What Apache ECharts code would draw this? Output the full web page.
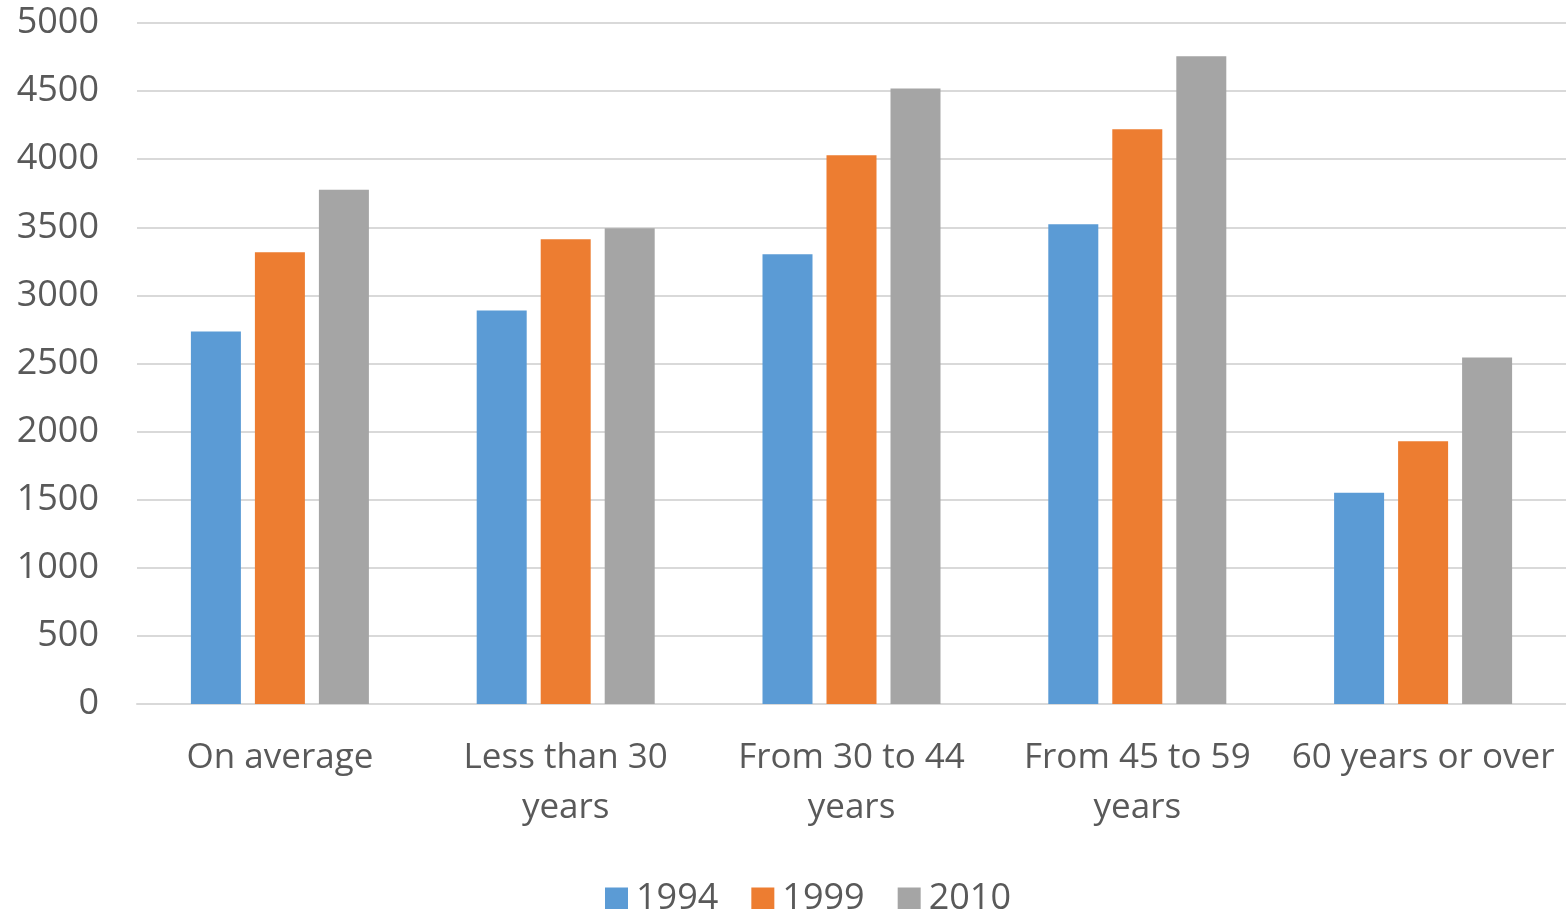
<!DOCTYPE html>
<html>
<head>
<meta charset="utf-8">
<style>
  html, body { margin: 0; padding: 0; background: #ffffff; }
  #chart { width: 1566px; height: 909px; }
</style>
<script src="https://cdn.jsdelivr.net/npm/echarts@6/dist/echarts.min.js"></script>
</head>
<body>
<div id="chart"></div>
<script>
// Age groups along the x axis
const categories = [
  'On average',
  'Less than 30\nyears',
  'From 30 to 44\nyears',
  'From 45 to 59\nyears',
  '60 years or over'
];

// Yearly values per age group
const values1994 = [2735, 2890, 3303, 3523, 1551];
const values1999 = [3317, 3413, 4029, 4220, 1930];
const values2010 = [3775, 3493, 4519, 4756, 2544];

const seriesNames = ['1994', '1999', '2010'];
const seriesColors = ['#5B9BD5', '#ED7D31', '#A5A5A5'];

const textColor = '#595959';
const fontFamily = '"Open Sans", "Noto Sans", sans-serif';

const chart = echarts.init(document.getElementById('chart'));

function barSeries(name, data, color) {
  return {
    name: name,
    type: 'bar',
    data: data,
    barWidth: 50,
    barGap: '28%',
    itemStyle: { color: color },
    emphasis: { disabled: true }
  };
}

chart.setOption({
  animation: false,
  textStyle: { fontFamily: fontFamily },
  grid: { left: 137, right: 0, top: 23, bottom: 205, containLabel: false },
  legend: {
    data: seriesNames,
    left: 600,
    top: 876,
    itemWidth: 23,
    itemHeight: 23,
    itemGap: 33,
    icon: 'rect',
    textStyle: { color: textColor, fontSize: 36, fontFamily: fontFamily, padding: [0, 0, 0, 3] }
  },
  xAxis: {
    type: 'category',
    data: categories,
    axisTick: { show: false },
    axisLine: { lineStyle: { color: '#D9D9D9', width: 2 } },
    axisLabel: {
      color: textColor,
      fontSize: 35,
      lineHeight: 50,
      margin: 29,
      interval: 0,
      fontFamily: fontFamily
    }
  },
  yAxis: {
    type: 'value',
    min: 0,
    max: 5000,
    interval: 500,
    axisLine: { show: false },
    axisTick: { show: false },
    splitLine: { lineStyle: { color: '#D9D9D9', width: 2 } },
    axisLabel: {
      color: textColor,
      fontSize: 36,
      margin: 38,
      fontFamily: fontFamily,
      formatter: function (v) { return String(v); }
    }
  },
  series: [
    barSeries(seriesNames[0], values1994, seriesColors[0]),
    barSeries(seriesNames[1], values1999, seriesColors[1]),
    barSeries(seriesNames[2], values2010, seriesColors[2])
  ]
});
</script>
</body>
</html>
